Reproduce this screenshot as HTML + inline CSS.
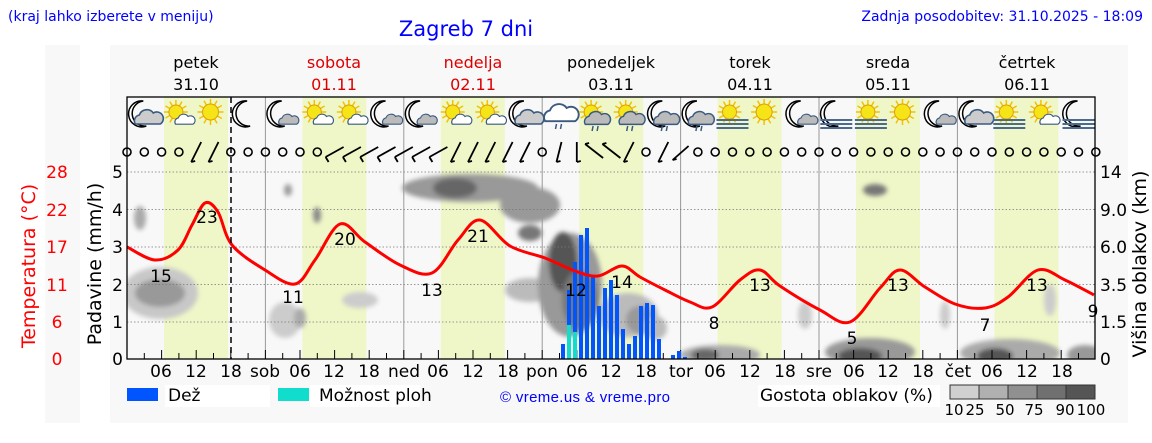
<!DOCTYPE html>
<html><head><meta charset="utf-8"><style>
body{margin:0;background:#fff;width:1152px;height:443px;overflow:hidden}
svg{display:block}
text{font-family:"DejaVu Sans","Liberation Sans",sans-serif}
</style></head><body>
<svg id="s" width="1152" height="443" xmlns="http://www.w3.org/2000/svg">
<defs>
<filter id="bl" x="-50%" y="-50%" width="200%" height="200%"><feGaussianBlur stdDeviation="2.5"/></filter>
<clipPath id="pc"><rect x="127" y="165" width="968" height="194"/></clipPath>
</defs>
<rect x="45" y="45" width="35" height="378" fill="#f8f8f8"/>
<rect x="110" y="45" width="1018" height="378" fill="#f8f8f8"/>
<g id="bands"></g>
<g id="clouds" clip-path="url(#pc)" filter="url(#bl)"></g>
<g id="grid"></g>
<g id="bars"></g>
<g id="icons"></g>
<g id="wind"></g>
<path id="temp" fill="none" stroke="#f00" stroke-width="3"/>
<rect x="127" y="97" width="968" height="262" fill="none" stroke="#000" stroke-width="1.3"/>
<line x1="231" y1="97" x2="231" y2="359" stroke="#000" stroke-width="1.5" stroke-dasharray="6,4"/>

<g font-size="14" fill="#00f" style="font-family:'Liberation Sans',sans-serif">
<text x="8" y="21">(kraj lahko izberete v meniju)</text>
<text x="1143" y="21" text-anchor="end">Zadnja posodobitev: 31.10.2025 - 18:09</text>
<text x="466" y="36" font-size="21" text-anchor="middle">Zagreb 7 dni</text>
</g>
<g font-size="16" text-anchor="middle">
<text x="196" y="68">petek</text><text x="196" y="90">31.10</text>
<text x="334" y="68" fill="#d00">sobota</text><text x="334" y="90" fill="#d00">01.11</text>
<text x="473" y="68" fill="#d00">nedelja</text><text x="473" y="90" fill="#d00">02.11</text>
<text x="611" y="68">ponedeljek</text><text x="611" y="90">03.11</text>
<text x="750" y="68">torek</text><text x="750" y="90">04.11</text>
<text x="888" y="68">sreda</text><text x="888" y="90">05.11</text>
<text x="1027" y="68">četrtek</text><text x="1027" y="90">06.11</text>
</g>
<g font-size="17" fill="#f00" text-anchor="middle">
<text x="57" y="178">28</text><text x="57" y="216">22</text><text x="57" y="253">17</text>
<text x="57" y="291">11</text><text x="57" y="328">6</text><text x="57" y="365">0</text>
</g>
<g font-size="17" text-anchor="end">
<text x="123" y="178">5</text><text x="123" y="216">4</text><text x="123" y="253">3</text>
<text x="123" y="291">2</text><text x="123" y="328">1</text><text x="123" y="365">0</text>
</g>
<g font-size="17">
<text x="1100" y="178">14</text><text x="1100" y="216">9.0</text><text x="1100" y="253">6.0</text>
<text x="1100" y="291">3.5</text><text x="1100" y="328">1.5</text><text x="1100" y="365">0</text>
</g>
<text transform="translate(35,266) rotate(-90)" font-size="19" fill="#f00" text-anchor="middle">Temperatura (°C)</text>
<text transform="translate(101,264) rotate(-90)" font-size="19" text-anchor="middle">Padavine (mm/h)</text>
<text transform="translate(1146,264) rotate(-90)" font-size="19" text-anchor="middle">Višina oblakov (km)</text>
<g font-size="17" text-anchor="middle">
<text x="161" y="377">06</text><text x="196" y="377">12</text><text x="231" y="377">18</text>
<text x="265" y="377">sob</text><text x="300" y="377">06</text><text x="334" y="377">12</text><text x="369" y="377">18</text>
<text x="404" y="377">ned</text><text x="438" y="377">06</text><text x="473" y="377">12</text><text x="508" y="377">18</text>
<text x="542" y="377">pon</text><text x="577" y="377">06</text><text x="611" y="377">12</text><text x="646" y="377">18</text>
<text x="681" y="377">tor</text><text x="715" y="377">06</text><text x="750" y="377">12</text><text x="785" y="377">18</text>
<text x="819" y="377">sre</text><text x="854" y="377">06</text><text x="888" y="377">12</text><text x="923" y="377">18</text>
<text x="958" y="377">čet</text><text x="992" y="377">06</text><text x="1027" y="377">12</text><text x="1062" y="377">18</text>
</g>
<g font-size="17" text-anchor="middle">
<text x="161" y="282">15</text><text x="207" y="223">23</text><text x="293" y="303">11</text>
<text x="345" y="245">20</text><text x="432" y="296">13</text><text x="478" y="242">21</text>
<text x="576" y="296">12</text><text x="622" y="288">14</text><text x="714" y="329">8</text>
<text x="760" y="291">13</text><text x="852" y="344">5</text><text x="898" y="291">13</text>
<text x="985" y="331">7</text><text x="1037" y="291">13</text><text x="1093" y="317">9</text>
</g>
<rect x="127" y="388" width="31" height="13" fill="#0055ff"/>
<rect x="165" y="385" width="105" height="22" fill="#fff"/>
<text x="168" y="401" font-size="17">Dež</text>
<rect x="278" y="388" width="31" height="13" fill="#11ddcc"/>
<rect x="310" y="385" width="110" height="22" fill="#fff"/>
<text x="319" y="401" font-size="17">Možnost ploh</text>
<text x="500" y="402" font-size="15" fill="#00f" style="font-family:'Liberation Sans Narrow','Liberation Sans',sans-serif" textLength="170">© vreme.us &amp; vreme.pro</text>
<rect x="758" y="385" width="182" height="22" fill="#fff"/>
<text x="760" y="401" font-size="17">Gostota oblakov (%)</text>
<g stroke="#333" stroke-width="1">
<rect x="950" y="385" width="29" height="14" fill="#d0d0d0"/>
<rect x="979" y="385" width="29" height="14" fill="#b0b0b0"/>
<rect x="1008" y="385" width="29" height="14" fill="#909090"/>
<rect x="1037" y="385" width="29" height="14" fill="#707070"/>
<rect x="1066" y="385" width="29" height="14" fill="#555"/>
</g>
<g font-size="15" text-anchor="middle">
<text x="954" y="415">10</text><text x="975" y="415">25</text><text x="1005" y="415">50</text>
<text x="1034" y="415">75</text><text x="1065" y="415">90</text><text x="1091" y="415">100</text>
</g>
</svg>
<script>
var NS="http://www.w3.org/2000/svg";
function el(p,t,a){var e=document.createElementNS(NS,t);for(var k in a)e.setAttribute(k,a[k]);document.getElementById(p).appendChild(e);return e;}
var D=138.4;
for(var d=0;d<7;d++){var x0=127+d*D;
 el("bands","rect",{x:x0+37,y:97,width:64,height:262,fill:"#eff7c8"});
 if(d>0)el("grid","line",{x1:x0,y1:97,x2:x0,y2:359,stroke:"#999","stroke-width":1});
}
[209.6,247,284.6,322,172].forEach(function(y){el("grid","line",{x1:127,y1:y,x2:1095,y2:y,stroke:"#777","stroke-width":0.8,"stroke-dasharray":"1.5,2"});});
for(var k=1;k<56;k++){var x=127+k*D/8;el("grid","line",{x1:x,y1:359,x2:x,y2:(k%2?353:350),stroke:"#000"});}
[[160,293,38,26,"#c8c8c8"],[160,293,25,14,"#999"],[140,218,6,12,"#aaa"],[285,320,16,18,"#ccc"],[300,318,6,10,"#aaa"],[288,190,4,6,"#999"],[317,215,4,8,"#888"],[360,300,18,8,"#ccc"],
[470,188,68,14,"#999"],[455,188,22,10,"#666"],[530,205,30,18,"#999"],[530,233,12,8,"#777"],[530,290,25,12,"#bbb"],
[570,285,32,52,"#999"],[563,262,14,30,"#555"],[580,300,18,30,"#777"],[628,315,30,22,"#bbb"],[640,320,14,14,"#999"],[655,328,12,12,"#bbb"],
[720,355,40,10,"#aaa"],[705,355,14,6,"#666"],[805,315,7,14,"#ccc"],[870,352,45,14,"#999"],[860,356,22,8,"#555"],[875,190,12,6,"#777"],
[945,315,5,14,"#ccc"],[1010,353,50,14,"#aaa"],[995,356,18,8,"#555"],[1050,300,6,16,"#ccc"],[1085,355,18,10,"#999"]
].forEach(function(c){el("clouds","ellipse",{cx:c[0],cy:c[1],rx:c[2],ry:c[3],fill:c[4]});});
[[563,344],[569,290,325],[575,262,332],[581,235],[587,228],[593,276],[599,306],[605,288],[611,280],[617,295],[623,329],[629,344],[635,336],[641,306],[647,303],[653,305],[659,339],[673,355],[679,351],[685,357]].forEach(function(b){
 el("bars","rect",{x:b[0]-2,y:b[1],width:4,height:359-b[1],fill:"#0055ff"});
 if(b[2])el("bars","rect",{x:b[0]-2,y:b[2],width:4,height:359-b[2],fill:"#11ddcc"});});
var P=[[127,247],[155,260],[178,250],[192,225],[205,203],[218,212],[232,245],[265,270],[295,284],[315,260],[340,224],[365,242],[400,265],[432,273],[458,240],[480,220],[510,246],[545,258],[575,271],[598,276],[622,266],[640,277],[665,290],[690,302],[712,307],[740,280],[760,270],[780,286],[820,310],[850,322],[880,288],[900,270],[925,287],[955,304],[985,308],[1008,297],[1038,270],[1065,280],[1094,295]];
var s="M"+P[0];
for(var i=0;i<P.length-1;i++){var p0=P[Math.max(0,i-1)],p1=P[i],p2=P[i+1],p3=P[Math.min(P.length-1,i+2)];
 var c1=[p1[0]+(p2[0]-p0[0])/6,p1[1]+(p2[1]-p0[1])/6],c2=[p2[0]-(p3[0]-p1[0])/6,p2[1]-(p3[1]-p1[1])/6];
 s+=" C"+c1+" "+c2+" "+p2;}
document.getElementById("temp").setAttribute("d",s);
function sun(x,y,r){var g='';for(var a=0;a<12;a++){var t=a*Math.PI/6;g+='<line x1="'+(x+Math.cos(t)*r)+'" y1="'+(y+Math.sin(t)*r)+'" x2="'+(x+Math.cos(t)*(r+5))+'" y2="'+(y+Math.sin(t)*(r+5))+'" stroke="#f2c200" stroke-width="1.5"/>';}
 return g+'<circle cx="'+x+'" cy="'+y+'" r="'+r+'" fill="#f4e418" stroke="#e0a000"/>';}
function moon(x,y){return '<path d="M'+(x+3)+','+(y-13)+' A13,13 0 1,0 '+(x+6)+','+(y+12)+' A11,11 0 1,1 '+(x+3)+','+(y-13)+'Z" fill="#fff" stroke="#000" stroke-width="1.5"/>';}
function cloud(x,y,s,f){f=f||"#ccc";return '<g transform="translate('+x+','+y+') scale('+s+')"><path d="M-12,6 A6,6 0 0,1 -8,-3 A8,8 0 0,1 6,-5 A6,6 0 0,1 13,6 Z" fill="'+f+'" stroke="#3a5a80" stroke-width="1.6"/></g>';}
function fog(x,y){return '<g stroke="#4a6a90" stroke-width="2"><line x1="'+(x-16)+'" y1="'+(y)+'" x2="'+(x+16)+'" y2="'+y+'"/><line x1="'+(x-16)+'" y1="'+(y+4)+'" x2="'+(x+16)+'" y2="'+(y+4)+'"/><line x1="'+(x-16)+'" y1="'+(y+8)+'" x2="'+(x+16)+'" y2="'+(y+8)+'"/></g>';}
function rain(x,y){return '<g stroke="#3a5a80" stroke-width="1.5"><line x1="'+(x-3)+'" y1="'+y+'" x2="'+(x-4)+'" y2="'+(y+5)+'"/><line x1="'+(x+2)+'" y1="'+y+'" x2="'+(x+1)+'" y2="'+(y+5)+'"/></g>';}
var T=["mc","sc","s","m","mc2","sc","sc","mc2","mc2","sc","sc","mc","r","sr","sr","mr","mr","sf","s","mc2","mf","sf","s","mc2","mc","sf","sc","mf"];
var h='';T.forEach(function(t,k){var x=144.3+k*D/4,y=114;
 if(t[0]=="m")h+=moon(x-4,y);
 if(t[0]=="s")h+=sun(x-3,y-2,t=="s"?8:7);
 if(t=="mc")h+=cloud(x+3,y+4,1,"#ccc");
 if(t=="mc2"||t=="sc")h+=cloud(x+5,y+6,0.7,t=="sc"?"#fff":"#bbb");
 if(t=="r"){h+=cloud(x,y,1.2,"#fff");h+=rain(x,y+10);}
 if(t=="sr"||t=="mr"){h+=cloud(x+2,y+5,0.9,"#bbb");h+=rain(x+2,y+12);}
 if(t=="sf"||t=="mf")h+=fog(x,y+6);
});
document.getElementById("icons").innerHTML=h;
var w='';var barb={4:1,5:1,29:1,26:2,27:3,28:3,25:4,31:1,32:5};
for(var k=12;k<=23;k++)barb[k]=(k<19?6:1);
for(var k=0;k<=56;k++){var x=127+k*D/8,y=152;var b=barb[k];
 if(!b){w+='<circle cx="'+x+'" cy="'+y+'" r="4" fill="none" stroke="#000" stroke-width="1.6"/>';continue;}
 var x1,y1,x2,y2;
 if(b==1){x1=x-5;y1=y+10;x2=x+5;y2=y-10;}
 else if(b==6){x1=x-9;y1=y+5;x2=x+9;y2=y-5;}
 else if(b==2){x1=x;y1=y+10;x2=x;y2=y-10;}
 else if(b==3){x1=x-9;y1=y-8;x2=x+9;y2=y+6;}
 else if(b==4){x1=x-3;y1=y+10;x2=x+2;y2=y-10;}
 else {x1=x-8;y1=y+8;x2=x+8;y2=y-6;}
 w+='<line x1="'+x1+'" y1="'+y1+'" x2="'+x2+'" y2="'+y2+'" stroke="#000" stroke-width="1.8"/><line x1="'+x1+'" y1="'+y1+'" x2="'+(x1+(b==6?3:4))+'" y2="'+(y1+(b==6?5:-1))+'" stroke="#000" stroke-width="1.8"/>';}
document.getElementById("wind").innerHTML=w;
</script>
</body></html>
